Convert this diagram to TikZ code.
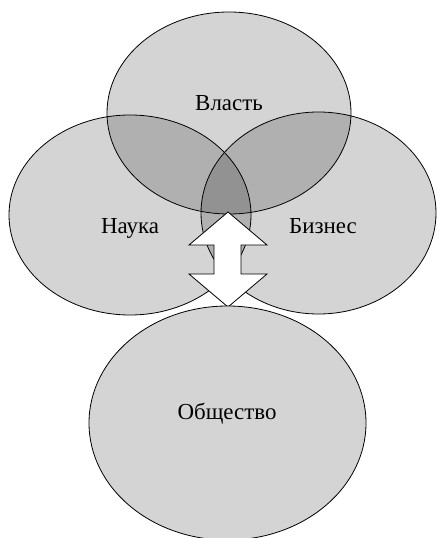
\documentclass[tikz,border=0pt]{standalone}
\usepackage{fontspec}
\setmainfont{Liberation Serif}
\usetikzlibrary{shapes.geometric}
\begin{document}
\begin{tikzpicture}[x=1bp,y=-1bp,
  sphere/.style={ellipse, draw=black, line width=0.8bp, inner sep=0pt},
  seethru/.style={sphere, fill=black, fill opacity=0.17},
  solid/.style={sphere, fill={rgb,255:red,212;green,212;blue,212}},
  lbl/.style={font=\fontsize{23}{27}\selectfont, inner sep=0pt},
  bigarrow/.style={draw=black, fill=white, line width=0.8bp, line join=miter}]
\useasboundingbox (0,0) rectangle (437,538);
\node[seethru, minimum width=244bp, minimum height=202bp] (vlast) at (229,113) {};
\node[seethru, minimum width=242bp, minimum height=200bp] (nauka) at (130,215) {};
\node[seethru, minimum width=235bp, minimum height=202bp] (biznes) at (318.5,213) {};
\draw[bigarrow] (228,212) -- (267,245) -- (241,245) -- (241,274) -- (267,274)
  -- (228,307) -- (189,274) -- (214,274) -- (214,245) -- (189,245) -- cycle;
\node[solid, minimum width=277bp, minimum height=234bp] (obsh) at (227.5,423) {};
\node[lbl] (tv) at (229,103) {Власть};
\node[lbl] (tn) at (130,228) {Наука};
\node[lbl] (tb) at (323,226) {Бизнес};
\node[lbl] (to) at (227,414) {Общество};
\end{tikzpicture}
\end{document}
